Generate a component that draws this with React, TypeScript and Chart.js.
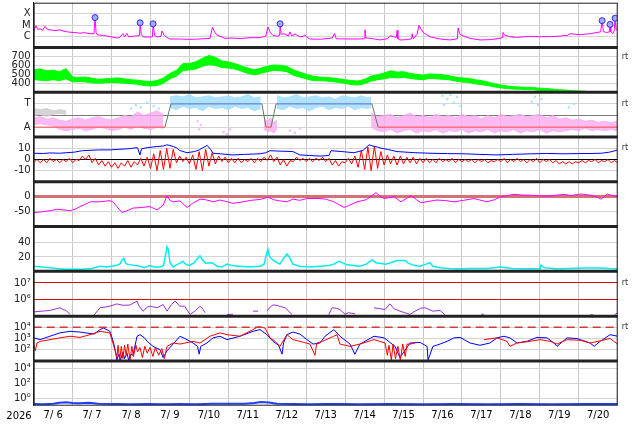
import React, { useEffect, useRef } from 'react';
import { Chart, registerables } from 'chart.js';

// time axis: hours since 2026-07-06 00:00
const yearLabel = '2026';
const dayLabels = ['7/ 6', '7/ 7', '7/ 8', '7/ 9', '7/10', '7/11', '7/12', '7/13', '7/14', '7/15', '7/16', '7/17', '7/18', '7/19', '7/20'];

// panel 1: x-ray flux (W/m2)
const xrayHours = [0, 1.4, 2.5, 3.9, 5.5, 7, 8.5, 10, 13, 16.2, 18, 20, 22.4, 25, 28.5, 31, 34.7, 37.2, 37.8, 38.5, 39.5, 43, 47, 51.3, 53, 55, 56, 57.5, 58.5, 61.2, 63.7, 65.2, 65.6, 66.3, 67.4, 71.7, 73.2, 73.6, 74.5, 76, 78.5, 79.1, 80.5, 82, 84, 90, 96, 102, 108.7, 110.2, 111.5, 113, 117.9, 122, 127.2, 133.3, 139.5, 143, 144.4, 146, 147.5, 150.5, 151.6, 151.9, 152.5, 154, 157, 158, 159, 161, 164.1, 166, 167.2, 168.5, 170.3, 176.5, 179.6, 184, 185.4, 186.5, 195, 199.3, 203.8, 204.2, 204.8, 208, 213.5, 218, 219.6, 223.6, 224, 224.5, 225.8, 230, 233, 233.3, 234, 236.3, 237.5, 240, 244.3, 250.5, 256.6, 261.2, 261.6, 262.5, 264, 269, 275.1, 281, 287.5, 289.1, 289.3, 290.5, 293.6, 298, 305.9, 312, 318.3, 323, 329, 330.6, 336.8, 343, 347.3, 349.5, 350.4, 351.2, 353, 354.8, 355.3, 355.8, 357, 357.8, 358.4, 359, 360];
const xrayFlux = [2.8e-6, 9e-6, 4e-6, 4.7e-6, 3.5e-6, 7.6e-6, 4e-6, 3.8e-6, 3.2e-6, 3.8e-6, 3e-6, 2.6e-6, 2.3e-6, 2.2e-6, 1.9e-6, 2.1e-6, 1.7e-6, 1.7e-6, 4.7e-5, 2e-6, 1.3e-6, 1.2e-6, 9.3e-7, 7e-7, 8e-7, 1.7e-6, 9e-7, 1.8e-6, 9e-7, 1e-6, 1.1e-6, 1.2e-6, 1.6e-5, 1.5e-6, 9e-7, 8.5e-7, 9e-7, 1.3e-5, 1.2e-6, 9e-7, 1e-6, 3e-6, 1.2e-6, 8e-7, 5.7e-7, 5.7e-7, 5.3e-7, 5.7e-7, 6.5e-7, 6.6e-6, 2.5e-6, 1.3e-6, 6.5e-7, 7e-7, 6.2e-7, 7.5e-7, 7.5e-7, 1e-6, 6.6e-6, 2e-6, 1.2e-6, 1e-6, 1.2e-6, 1.3e-5, 1.5e-6, 1.7e-6, 1.1e-6, 2.5e-6, 1.1e-6, 1.6e-6, 9e-7, 1e-6, 1.3e-6, 8e-7, 5.7e-7, 5.5e-7, 6e-7, 7e-7, 1.7e-6, 6e-7, 5.7e-7, 5.7e-7, 6e-7, 3.8e-6, 7e-7, 6.5e-7, 4.7e-7, 6e-7, 1.1e-6, 8e-7, 3.4e-6, 6e-7, 4.7e-7, 5e-7, 6e-7, 1.7e-6, 6e-7, 1.5e-6, 9.3e-6, 2.2e-6, 9e-7, 5.7e-7, 4.7e-7, 6e-7, 5.6e-6, 1.8e-6, 1.2e-6, 6.5e-7, 4.7e-7, 5e-7, 6.5e-7, 8e-7, 2.2e-6, 1.2e-6, 9e-7, 8e-7, 1e-6, 9e-7, 9.5e-7, 1e-6, 1.2e-6, 1.7e-6, 1.4e-6, 1.7e-6, 2.2e-6, 2.5e-6, 2.5e-5, 2.6e-6, 2.2e-6, 2.4e-6, 1.15e-5, 2.6e-6, 1.7e-6, 3e-6, 4.1e-5, 4e-6, 3.4e-6];
const flareHours = [37.8, 65.6, 73.6, 151.9, 350.4, 355.3, 358.4];
const flareFlux = [4.7e-5, 1.6e-5, 1.3e-5, 1.3e-5, 2.5e-5, 1.15e-5, 4.1e-5];
const xrayTicks = [1e-4, 1e-5, 1e-6];
const xrayTickLabels = ['X', 'M', 'C'];

// shared 4-hour sample times
const hours4 = [0, 4, 8, 12, 16, 20, 24, 28, 32, 36, 40, 44, 48, 52, 56, 60, 64, 68, 72, 76, 80, 84, 88, 92, 96, 100, 104, 108, 112, 116, 120, 124, 128, 132, 136, 140, 144, 148, 152, 156, 160, 164, 168, 172, 176, 180, 184, 188, 192, 196, 200, 204, 208, 212, 216, 220, 224, 228, 232, 236, 240, 244, 248, 252, 256, 260, 264, 268, 272, 276, 280, 284, 288, 292, 296, 300, 304, 308, 312, 316, 320, 324, 328, 332, 336, 340, 344, 348, 352, 356, 360];

// panel 2: solar wind speed (km/s), lowest and highest value in each 4 h
const windLow = [440, 435, 430, 440, 430, 450, 415, 420, 415, 405, 400, 405, 410, 405, 400, 395, 390, 375, 370, 375, 400, 450, 480, 540, 550, 560, 590, 610, 600, 575, 570, 560, 535, 510, 495, 510, 530, 545, 540, 530, 490, 470, 450, 430, 430, 425, 420, 410, 400, 385, 380, 395, 425, 440, 450, 465, 460, 465, 455, 445, 440, 455, 450, 445, 440, 425, 415, 410, 395, 385, 375, 360, 348, 342, 335, 333, 330, 328, 320, 318, 312, 305, 302, 300, 300, 300];
const windHigh = [550, 560, 540, 545, 530, 565, 470, 465, 470, 455, 445, 450, 455, 460, 450, 440, 435, 425, 420, 430, 460, 510, 545, 620, 620, 640, 680, 710, 690, 650, 640, 620, 595, 570, 550, 570, 590, 605, 600, 590, 550, 525, 500, 480, 470, 465, 460, 450, 440, 430, 425, 445, 480, 495, 515, 540, 525, 530, 510, 500, 490, 505, 500, 495, 485, 470, 460, 455, 440, 430, 415, 395, 380, 370, 362, 358, 355, 352, 345, 342, 335, 328, 325, 318, 315, 312];
const windTicks = [700, 600, 500, 400];

// panel 3: sector (T = toward, A = away) and field angle cloud
const sectorHours = [0, 80.9, 84.6, 140.7, 143.2, 146.3, 149.4, 208.5, 212.3, 360];
const sectorState = [-1, -1, 1, 1, -1, -1, 1, 1, -1, -1];
const awayHours1 = [0, 4, 8, 12, 16, 20, 24, 28, 32, 36, 40, 44, 48, 52, 56, 60, 64, 68, 72, 76, 80];
const awayLow1 = [-0.8, -0.7, -0.8, -0.9, -1.2, -1.3, -1.2, -1.1, -1.3, -1.2, -1.0, -1.1, -1.3, -1.2, -1.0, -1.2, -0.9, -1.1, -1.2, -1.0, -1.1];
const awayHigh1 = [-0.2, -0.1, -0.3, -0.2, -0.4, -0.5, -0.3, -0.2, -0.4, -0.2, -0.1, -0.3, -0.4, -0.2, 0, -0.1, 0.3, 0, 0.2, 0.4, 0.1];
const awayHours2 = [142, 144, 146, 148, 150];
const awayLow2 = [-1.2, -1.4, -1.3, -1.5, -1.2];
const awayHigh2 = [-0.3, -0.5, -0.2, -0.6, -0.4];
const awayHours3 = [208, 212, 216, 220, 224, 228, 232, 236, 240, 244, 248, 252, 256, 260, 264, 268, 272, 276, 280, 284, 288, 292, 296, 300, 304, 308, 312, 316, 320, 324, 328, 332, 336, 340, 344, 348, 352, 356, 360];
const awayLow3 = [-1.0, -1.3, -1.4, -1.2, -1.5, -1.3, -1.2, -1.5, -1.3, -1.4, -1.2, -1.5, -1.3, -1.4, -1.2, -1.5, -1.3, -1.4, -1.2, -1.5, -1.3, -1.4, -1.2, -1.5, -1.3, -1.4, -1.2, -1.5, -1.3, -1.4, -1.3, -1.2, -1.3, -1.1, -1.3, -1.2, -1.3, -1.2, -1.3];
const awayHigh3 = [0.2, -0.1, 0, 0.1, -0.2, 0, 0.2, -0.1, 0, -0.2, 0.1, -0.1, 0, -0.2, 0.1, -0.1, 0, -0.3, 0, -0.2, 0.1, -0.1, 0, 0.1, -0.1, 0, 0.1, -0.2, 0, -0.3, -0.2, -0.4, -0.3, -0.5, -0.4, -0.6, -0.5, -0.6, -0.5];
const towardHours1 = [84, 88, 92, 96, 100, 104, 108, 112, 116, 120, 124, 128, 132, 136, 140];
const towardLow1 = [0.7, 0.5, 0.8, 0.6, 0.7, 0.4, 0.8, 0.6, 0.7, 0.5, 0.8, 0.6, 0.7, 0.4, 0.6];
const towardHigh1 = [1.6, 1.7, 1.6, 1.8, 1.5, 1.6, 1.7, 1.5, 1.6, 1.7, 1.5, 1.6, 1.8, 1.5, 1.6];
const towardHours2 = [150, 154, 158, 162, 166, 170, 174, 178, 182, 186, 190, 194, 198, 202, 206, 208];
const towardLow2 = [0.6, 0.5, 0.8, 0.6, 0.7, 0.4, 0.7, 0.8, 0.5, 0.7, 0.6, 0.8, 0.5, 0.7, 0.6, 0.7];
const towardHigh2 = [1.7, 1.5, 1.6, 1.8, 1.5, 1.6, 1.7, 1.5, 1.6, 1.4, 1.7, 1.6, 1.5, 1.7, 1.5, 1.6];
const mixedHours = [0, 4, 8, 12, 16, 20];
const mixedLow = [0, 0.1, -0.1, 0.1, 0.2, 0.1];
const mixedHigh = [0.6, 0.5, 0.6, 0.4, 0.5, 0.4];
const towardDotHours = [60, 63, 66, 70, 74, 77, 252, 253, 255, 257, 259, 261, 263, 307, 309, 311, 313, 330, 333];
const towardDotValues = [0.6, 0.9, 0.7, 1.1, 0.8, 0.6, 1.7, 0.9, 1.4, 1.8, 1.1, 1.6, 0.8, 1.2, 1.6, 0.9, 1.4, 0.7, 1.0];
const awayDotHours = [101, 102, 103, 117, 119, 121, 158, 161, 164];
const awayDotValues = [-0.5, -1.2, -0.8, -1.4, -1.6, -1.2, -1.3, -1.5, -1.1];
const sectorTicks = [1, 0, -1];
const sectorTickLabels = ['T', '', 'A'];

// panel 4: IMF Bt and Bz (nT)
const btHours = [0, 6, 10, 16, 20, 25, 30, 40, 47, 52, 58, 61, 64, 65.5, 66.5, 70, 76, 80, 82, 84, 86, 88, 90, 94.5, 99, 102, 105.6, 107, 109, 110.6, 115, 122.8, 130, 139.5, 143, 145.7, 150, 159.8, 164.1, 170, 176.5, 182, 183.3, 190, 197.4, 203, 206.7, 209, 212, 214.1, 218, 224, 235, 244.9, 255, 265.3, 275, 285.6, 295, 306.5, 316, 326.9, 335, 343, 349.8, 355, 358.4, 360];
const btValues = [5.5, 5.3, 5.8, 5.5, 6, 6.5, 7.8, 8.5, 8.5, 9, 9.5, 10, 10.5, 4, 9.5, 10.5, 11.5, 12, 13, 12.5, 11.5, 10.5, 8, 6, 7, 8.5, 11.5, 12.5, 9, 5.5, 5, 4, 4.5, 5, 6, 7.8, 7.5, 7, 4, 3.5, 3, 3.5, 7.8, 7, 6, 8, 13, 12, 11, 10, 9, 7, 6, 5.5, 5.2, 5, 4.5, 4, 4.5, 5, 5.3, 5, 5.2, 5.3, 5.5, 6.5, 7.8, 8.5];
const bzLow = [-3, -3, -3, -2, -3, -2, -3, -1, 0, -3, -5, -6, -7, -8, -6, -7, -5, -6, -8, -10, -9, -8, -3, -2, -4, -9, -10, -6, -4, -2, -3, -3, -3, -2, -3, -2, -1, -2, -5, -6, -2, -1, -2, -2, -1, -2, -5, -6, -3, -4, -7, -9, -10, -8, -5, -4, -5, -4, -3, -4, -3, -3, -3, -2, -2, -3, -2, -2, -3, -2, -3, -2, -2, -3, -2, -2, -3, -2, -3, -2, -3, -4, -4, -4, -3, -3, -2, -3, -2, -3, -3];
const bzHigh = [0, 0, 1, 0, 0, 1, 0, 3, 4, 1, -1, -2, -3, -3, -1, -2, 1, 2, 5, 8, 10, 9, 3, 2, 4, 7, 9, 6, 3, 2, 1, 1, 0, 1, 1, 2, 4, 2, 0, -1, 2, 1, 1, 1, 2, 1, -1, -2, 1, 3, 8, 11, 12, 7, 4, 3, 3, 2, 2, 1, 1, 0, 1, 0, 1, 0, 0, 0, 0, 0, -1, 0, 1, 0, 1, 0, 0, 1, 0, 0, -1, -2, -2, -2, -1, -1, 0, -1, 0, -1, -1];
const imfTicks = [10, 0, -10];

// panel 5: Dst (nT)
const dstHours = [0, 6, 10, 14.2, 20, 22.4, 24, 26, 28.5, 32, 34.7, 40.9, 47, 49, 51.3, 54.4, 57, 61.2, 67, 71.7, 76, 79.8, 82.2, 84, 85.9, 90.2, 94.5, 98, 102.5, 106, 110.6, 114.9, 118, 122.8, 128, 134, 139.5, 144.4, 148, 151.8, 156.1, 159.8, 164, 168.5, 176.5, 180, 185.1, 191.3, 194, 199.3, 205, 211, 214, 216, 222.1, 226.4, 230, 232.7, 236, 238.8, 244, 248.6, 254, 259.1, 265, 271.4, 279.4, 284, 288.1, 292, 296.1, 300, 306.5, 312, 316.4, 322, 326.9, 331, 337.4, 342, 346, 349.8, 353.5, 356, 359, 360];
const dstValues = [-53, -50, -47, -42, -45, -47, -44, -41, -33, -25, -17, -17, -13, -18, -33, -53, -48, -38, -36, -33, -44, -28, 3, -12, -17, -14, -36, -22, -8, -10, -17, -11, -15, -22, -18, -12, -9, -2, -10, -14, -17, -8, -12, -6, -6, -8, -17, -36, -30, -17, -10, 14, 0, -6, 0, -17, -5, 4, -10, -20, -15, -11, -13, -17, -12, -6, -17, -10, 0, 4, 8, 6, 5, 3, 2, 5, 8, 4, 9, 6, 2, -8, 9, 5, 2, 3];
const dstTicks = [0, -50];

// panel 6: auroral index
const aeHours = [0, 5, 10, 14, 20, 25, 30, 36, 40.9, 45, 51.3, 53, 54.4, 55.5, 56.5, 57.5, 60, 65.5, 68, 71.7, 74, 77.9, 80, 81.5, 82.2, 83, 84, 86, 88, 90.2, 92, 94, 96.4, 99, 101, 102.5, 104, 106, 110, 113, 116, 119.2, 122, 127.2, 133, 139.5, 142, 143.5, 144.4, 145.5, 147.5, 150, 151.8, 154, 156.1, 157.5, 159.8, 164.1, 170, 176.5, 182, 185, 188, 191.3, 193, 197, 201.1, 205, 208.5, 211, 214, 217, 220, 224, 228.9, 231, 235, 238.2, 242, 244.3, 246, 250.5, 256, 262.8, 270, 280, 287.5, 295, 305, 312.1, 312.7, 315, 322.6, 330, 340, 349, 355, 360];
const aeValues = [7, 6, 5, 4, 3, 3, 3, 4, 7, 6, 8.6, 10, 15.6, 18, 12, 10, 9, 7, 5, 8, 6, 6, 8, 25, 34, 30, 12, 6, 9, 11.4, 14, 9, 8.6, 12, 18, 21.5, 16, 11.4, 12, 7, 6, 10, 8, 7, 6, 7, 10, 24, 30, 20, 15.6, 12, 10, 18, 24, 20, 10, 7, 6, 7, 8, 10, 14, 11, 9, 8, 7, 10, 16, 12, 11, 10, 12, 15, 15, 11, 8, 7, 10, 12, 7, 5, 4, 3.5, 4, 4, 6, 4, 3.5, 3.5, 8.6, 5, 3.5, 4, 4.5, 4.5, 3.8, 3.5];
const aeTicks = [40, 20];

// panel 7: proton flux
const protonHours = [0, 5, 10, 14, 16.2, 18, 20, 22.4, 23, 37, 40.9, 44, 47, 51.3, 55, 59.4, 63.7, 65, 67.4, 70, 71.7, 76, 79.8, 82.2, 85, 87.1, 90, 93, 96.4, 99.4, 102.5, 104, 105.6, 106.5, 119.2, 122.8, 123, 135.2, 138.3, 139, 143.8, 145.7, 147.5, 150, 152, 155, 159.2, 160, 182, 183.9, 186.5, 188.8, 191.9, 194, 196, 198, 200, 209.8, 216.6, 219.6, 222.1, 225.8, 232, 235.1, 238.5, 241.2, 246.1, 250.5, 253.5, 254, 276, 277.5, 278, 343, 345, 346, 358, 360];
const protonFlux = [1.8e5, 2e5, 2.2e5, 2.8e5, 3.2e5, 2.5e5, 2.2e5, 1.26e5, null, 1.1e5, 3.2e5, 3.5e5, 4e5, 5.5e5, 4.5e5, 4.7e5, 8e5, 4e5, 2e5, 3.5e5, 4e5, 3.2e5, 5e5, 2e5, 5e5, 8.3e5, 4e5, 4e5, 1.26e5, 2e5, 4e5, 3e5, 1.6e5, null, 1.26e5, 1.3e5, null, 2e5, 2e5, null, 2e5, 3.5e5, 4.7e5, 4.5e5, 3.8e5, 3.2e5, 1.26e5, null, 1.26e5, 3.2e5, 3e5, 2.5e5, 1.3e5, 1.6e5, 1.5e5, 1.4e5, null, 3.2e5, 2.5e5, 5.5e5, 2.8e5, 2e5, 1.26e5, 2e5, 3e5, 3.2e5, 2e5, 2.2e5, 1.2e5, null, 1.3e5, 1.3e5, null, 1.2e5, 1.2e5, null, 1.2e5, 1.6e5];
const protonTicks = [1e7, 1e6];
const protonTickLabels = ['10⁷', '10⁶'];

// panel 8: electron flux (two satellites) and alert level
const electronBlueHours = [0, 4, 10, 16.2, 22.4, 28.5, 37.2, 40.9, 43, 47, 49, 50.5, 51.3, 52.5, 53.5, 55, 56, 57.5, 58.5, 60, 61.2, 63.7, 65.5, 68, 70, 73.5, 77.9, 79.8, 82.2, 85.9, 90.2, 94.5, 98.2, 101, 102, 103, 106.8, 110.6, 114.9, 119.2, 127.2, 135.2, 139.5, 143.8, 147.5, 151, 153.1, 154, 156.1, 159.8, 164.1, 168.5, 172.2, 176.5, 179.6, 185.1, 188.8, 195, 198, 201.1, 209.8, 216, 222.7, 225.8, 232, 238.2, 242.5, 243.1, 246.1, 250.5, 254.8, 259.1, 262.8, 269, 275.1, 281.3, 285.6, 289.9, 293.6, 297.9, 304.1, 310.2, 316.4, 320.7, 322.6, 328.8, 334.9, 343, 345.5, 349.2, 355.3, 360];
const electronBlueFlux = [1150, 800, 1600, 3200, 4400, 3800, 2500, 6300, 8700, 4400, 560, 63, 12, 40, 12, 63, 16, 50, 12, 40, 32, 1600, 2200, 1260, 560, 200, 100, 20, 80, 320, 1600, 800, 400, 200, 40, 200, 400, 1150, 1600, 800, 1600, 4400, 6300, 2200, 560, 250, 40, 400, 2200, 3800, 2500, 800, 320, 400, 1600, 6300, 1600, 320, 40, 320, 1600, 1150, 200, 20, 400, 450, 200, 12, 200, 320, 560, 1150, 1260, 400, 250, 400, 1150, 1600, 1150, 400, 560, 1260, 1150, 400, 200, 1150, 1000, 400, 200, 560, 2200, 1600];
const electronRedHours = [0, 1, 2, 4, 10, 16.2, 22.4, 28.5, 34.7, 40.9, 47, 49, 51.3, 52, 53, 54, 55, 56, 57, 58, 59.4, 60.5, 61.5, 63, 64, 65.5, 67, 68.5, 70, 71.7, 73.5, 75, 77, 79, 80.5, 82.2, 85.9, 90.2, 98.2, 102.5, 108.7, 114.9, 119.2, 127.2, 135.2, 138.3, 142.6, 145.7, 148.8, 151.8, 156.1, 159.8, 164.1, 170.3, 173.4, 174.5, 178, 185, 187, 188.8, 195, 201.1, 209.8, 216.6, 218, 219, 220.5, 221.5, 223, 224.5, 226, 227.5, 229, 230.2, 232, 235.1, 236, 277.6, 285.6, 291.8, 293.6, 297.9, 305.9, 312.1, 318.3, 322.6, 328.8, 336.8, 343, 349.2, 355.3, 360];
const electronRedFlux = [290, 80, 400, 560, 800, 1150, 1600, 1260, 2200, 4400, 3200, 320, 20, 250, 12, 200, 16, 250, 32, 320, 12, 200, 25, 250, 63, 160, 20, 200, 50, 160, 25, 160, 32, 125, 16, 200, 400, 320, 560, 400, 1600, 3200, 2200, 1600, 6300, 11200, 8700, 1150, 560, 200, 2200, 800, 560, 320, 32, 400, 560, 1600, 2200, 320, 200, 320, 800, 400, 32, 250, 12, 320, 16, 200, 12, 320, 25, 320, 320, 400, null, 800, 1150, 560, 200, 400, 560, 800, 560, 320, 800, 700, 400, 630, 1000, 320];
const electronAlertHours = [0, 360];
const electronAlertFlux = [1e4, 1e4];
const electronTicks = [1e4, 1e3, 1e2];
const electronTickLabels = ['10⁴', '10³', '10²'];

// panel 9: dose
const doseHours = [0, 6, 12, 16, 20, 24, 28, 34, 40, 50, 60, 70, 80, 90, 100, 110, 120, 130, 136, 140, 145, 150, 160, 170, 180, 190, 200, 220, 240, 260, 280, 300, 320, 340, 360];
const doseValues = [0.17, 0.16, 0.19, 0.26, 0.29, 0.24, 0.21, 0.26, 0.19, 0.17, 0.16, 0.17, 0.16, 0.17, 0.16, 0.18, 0.19, 0.18, 0.24, 0.31, 0.27, 0.19, 0.17, 0.16, 0.17, 0.17, 0.16, 0.17, 0.16, 0.17, 0.16, 0.17, 0.16, 0.17, 0.17];
const doseTicks = [1e4, 1e2, 1];
const doseTickLabels = ['10⁴', '10²', '10⁰'];

// panels top to bottom, and where the small "rt" marks sit
const panelIds = ['xray', 'wind', 'sector', 'imf', 'dst', 'ae', 'proton', 'electron', 'dose'];
const rtMarks: [string, number][] = [['wind', 700], ['sector', 1], ['imf', 10], ['proton', 1e7], ['electron', 1e4]];

const PLOT_TOP = 2.7;
const PLOT_BOTTOM = 405.7;

const tickFont = { family: 'DejaVu Sans', size: 10 };
const gridGray = '#d4d4d4';

const pts = (xs: number[], ys: (number | null)[]) => ys.map((y, i) => ({ x: xs[i], y }));

// min/max per bin drawn as a saw-tooth so it reads like a noisy trace
const sawPts = (xs: number[], lo: number[], hi: number[]) =>
  lo.flatMap((l, i) => [
    { x: xs[i], y: l },
    { x: xs[i] + 2, y: hi[i] },
  ]);

const line = (label: string, data: any[], color: string, yAxisID: string, extra: any = {}) => ({
  label,
  data,
  yAxisID,
  borderColor: color,
  backgroundColor: color,
  borderWidth: 1,
  pointRadius: 0,
  fill: false,
  spanGaps: false,
  ...extra,
});

const band = (label: string, xs: number[], lo: number[], hi: number[], color: string, yAxisID: string) => [
  line(label + ' low', pts(xs, lo), color, yAxisID),
  line(label + ' high', pts(xs, hi), color, yAxisID, { fill: '-1' }),
];

const dots = (label: string, xs: number[], ys: number[], color: string, yAxisID: string) =>
  line(label, pts(xs, ys), color, yAxisID, { showLine: false, pointRadius: 1.6, pointStyle: 'rect', pointBorderWidth: 0 });

const panelAxis = (type: string, min: number, max: number, ticks: number[], labels: string[], grid: any = {}) => ({
  type,
  min,
  max,
  position: 'left',
  stack: 'panels',
  stackWeight: 1,
  offset: false,
  afterFit: (s: any) => {
    s.width = 33.7;
    s.paddingTop = 0;
    s.paddingBottom = 0;
  },
  afterBuildTicks: (s: any) => {
    s.ticks = ticks.map((value) => ({ value }));
  },
  border: { color: '#222', width: 1 },
  grid: { color: gridGray, drawTicks: false, ...grid },
  ticks: {
    autoSkip: false,
    padding: 3,
    color: '#222',
    font: tickFont,
    callback: (_v: any, i: number) => labels[i],
  },
});

// every dataset is clipped to the band of its own y axis
const panelClip = {
  id: 'panelClip',
  beforeDatasetDraw(chart: any, args: any) {
    const { ctx, chartArea } = chart;
    const ys = args.meta.yScale;
    ctx.save();
    ctx.beginPath();
    ctx.rect(chartArea.left, ys.top, chartArea.right - chartArea.left, ys.bottom - ys.top);
    ctx.clip();
  },
  afterDatasetDraw(chart: any) {
    chart.ctx.restore();
  },
};

Chart.register(panelClip, ...registerables);

const frame = {
  id: 'frame',
  // pin the stacked panels to the same rows as the original plot
  afterLayout(chart: any) {
    const a = chart.chartArea;
    a.top = PLOT_TOP;
    a.bottom = PLOT_BOTTOM;
    a.height = PLOT_BOTTOM - PLOT_TOP;
    const h = a.height / panelIds.length;
    panelIds.forEach((id, i) => {
      const s = chart.scales[id];
      s.top = PLOT_TOP + i * h;
      s.bottom = s.top + h;
      s.height = h;
      s.configure();
    });
    const x = chart.scales.x;
    x.top = PLOT_BOTTOM;
  },
  afterDraw(chart: any) {
    const { ctx, chartArea: a } = chart;
    ctx.save();
    ctx.strokeStyle = '#222';
    ctx.lineWidth = 1;
    ctx.strokeRect(a.left + 0.5, a.top + 0.5, a.right - a.left - 1, a.bottom - a.top - 1);
    ctx.lineWidth = 3;
    panelIds.slice(0, -1).forEach((id) => {
      const y = chart.scales[id].bottom;
      ctx.beginPath();
      ctx.moveTo(a.left, y);
      ctx.lineTo(a.right, y);
      ctx.stroke();
    });
    ctx.fillStyle = '#000';
    ctx.textBaseline = 'middle';
    ctx.textAlign = 'center';
    ctx.font = '10px "DejaVu Sans"';
    ctx.fillText(yearLabel, 19, 416.5);
    ctx.textAlign = 'left';
    ctx.fillStyle = '#333';
    ctx.font = '8px "DejaVu Sans"';
    rtMarks.forEach(([id, v]) => {
      ctx.fillText('rt', a.right + 4, chart.scales[id].getPixelForValue(v));
    });
    ctx.restore();
  },
};

const SpaceWeatherChart: React.FC = () => {
  const canvasRef = useRef<HTMLCanvasElement>(null);

  useEffect(() => {
    if (!canvasRef.current) return;

    const pink = 'rgba(248,170,238,0.8)';
    const skyBlue = 'rgba(160,222,250,0.85)';

    const datasets: any[] = [
      // flares
      line('flare peaks', pts(flareHours, flareFlux), '#2b2bff', 'xray', {
        showLine: false,
        pointRadius: 3,
        pointBorderWidth: 1,
        pointBorderColor: '#2b2bff',
        pointBackgroundColor: '#a9a9ff',
      }),
      line('x-ray', pts(xrayHours, xrayFlux), '#ff00ff', 'xray'),
      // solar wind
      ...band('wind', hours4, windLow, windHigh, '#00ff00', 'wind'),
      // sector
      line('sector', pts(sectorHours, sectorState), '#5b6cd8', 'sector', {
        segment: {
          borderColor: (c: any) => {
            const a = c.p0.parsed.y;
            const b = c.p1.parsed.y;
            if (a !== b) return '#5f7d5f';
            return a > 0 ? '#5b6cd8' : '#ff4a4a';
          },
        },
      }),
      dots('toward dots', towardDotHours, towardDotValues, skyBlue, 'sector'),
      dots('away dots', awayDotHours, awayDotValues, pink, 'sector'),
      ...band('away 1', awayHours1, awayLow1, awayHigh1, pink, 'sector'),
      ...band('away 2', awayHours2, awayLow2, awayHigh2, pink, 'sector'),
      ...band('away 3', awayHours3, awayLow3, awayHigh3, pink, 'sector'),
      ...band('toward 1', towardHours1, towardLow1, towardHigh1, skyBlue, 'sector'),
      ...band('toward 2', towardHours2, towardLow2, towardHigh2, skyBlue, 'sector'),
      ...band('mixed', mixedHours, mixedLow, mixedHigh, 'rgba(205,205,205,0.85)', 'sector'),
      // IMF
      line('Bt', pts(btHours, btValues), '#0000ff', 'imf'),
      line('Bz', sawPts(hours4, bzLow, bzHigh), '#ff0000', 'imf'),
      // Dst
      line('Dst', pts(dstHours, dstValues), '#ff00ff', 'dst'),
      // auroral
      line('AE', pts(aeHours, aeValues), '#00eeee', 'ae', { borderWidth: 1.5 }),
      // protons
      line('protons', pts(protonHours, protonFlux), '#9b30d0', 'proton'),
      // electrons
      line('alert', pts(electronAlertHours, electronAlertFlux), '#d03a3a', 'electron', { borderDash: [8, 5], borderWidth: 1.5 }),
      line('electrons A', pts(electronRedHours, electronRedFlux), '#ff0000', 'electron'),
      line('electrons B', pts(electronBlueHours, electronBlueFlux), '#0000ff', 'electron'),
      // dose
      line('dose', pts(doseHours, doseValues), '#1f3fff', 'dose', { borderWidth: 2 }),
    ];

    const axes: Record<string, any> = {
      xray: panelAxis('logarithmic', 1e-7, 1e-3, xrayTicks, xrayTickLabels),
      wind: panelAxis('linear', 300, 800, windTicks, windTicks.map(String)),
      sector: panelAxis('linear', -1.85, 2, sectorTicks, sectorTickLabels, {
        color: (c: any) => (c.tick && c.tick.value === 0 ? '#7a7a7a' : gridGray),
      }),
      imf: panelAxis('linear', -20, 20, imfTicks, imfTicks.map(String), {
        color: (c: any) => (c.tick && c.tick.value === 0 ? '#000' : gridGray),
      }),
      dst: panelAxis('linear', -100, 50, dstTicks, dstTicks.map(String), {
        color: (c: any) => (c.tick && c.tick.value === 0 ? '#d27272' : gridGray),
        lineWidth: (c: any) => (c.tick && c.tick.value === 0 ? 3 : 1),
      }),
      ae: panelAxis('linear', 0, 62, aeTicks, aeTicks.map(String)),
      proton: panelAxis('logarithmic', 1e5, 5e7, protonTicks, protonTickLabels, { color: '#cc1111' }),
      electron: panelAxis('logarithmic', 10, 1e5, electronTicks, electronTickLabels),
      dose: panelAxis('logarithmic', 0.1, 1.2e5, doseTicks, doseTickLabels),
    };

    const scales: Record<string, any> = {
      x: {
        type: 'linear',
        position: 'bottom',
        min: 0,
        max: 360,
        offset: false,
        afterFit: (s: any) => {
          s.height = 18;
          s.paddingLeft = 0;
          s.paddingRight = 0;
        },
        border: { display: false },
        grid: {
          drawTicks: false,
          color: (c: any) => (c.tick && c.tick.value % 24 === 0 ? '#c8c8c8' : 'rgba(0,0,0,0)'),
        },
        ticks: {
          stepSize: 12,
          autoSkip: false,
          maxRotation: 0,
          padding: 4,
          color: '#000',
          font: tickFont,
          callback: (v: any) => (v % 24 === 12 ? dayLabels[(v - 12) / 24] : ''),
        },
      },
    };
    // stacked left axes are laid out last-defined on top, so add bottom panel first
    [...panelIds].reverse().forEach((id) => {
      scales[id] = axes[id];
    });

    const chart = new Chart(canvasRef.current, {
      type: 'line',
      data: { datasets },
      options: {
        animation: false,
        responsive: false,
        events: [],
        layout: { padding: { top: 2, right: 16.3, left: 0, bottom: 0 } },
        elements: { line: { tension: 0 }, point: { radius: 0 } },
        plugins: { legend: { display: false }, tooltip: { enabled: false } },
        scales,
      },
      plugins: [frame],
    } as any);

    return () => {
      chart.destroy();
    };
  }, []);

  return <canvas ref={canvasRef} width={634} height={424} />;
};

export default function App() {
  return (
    <div style={{ position: 'fixed', left: 0, top: 0, width: 634, height: 424, background: '#fff' }}>
      <SpaceWeatherChart />
    </div>
  );
}
